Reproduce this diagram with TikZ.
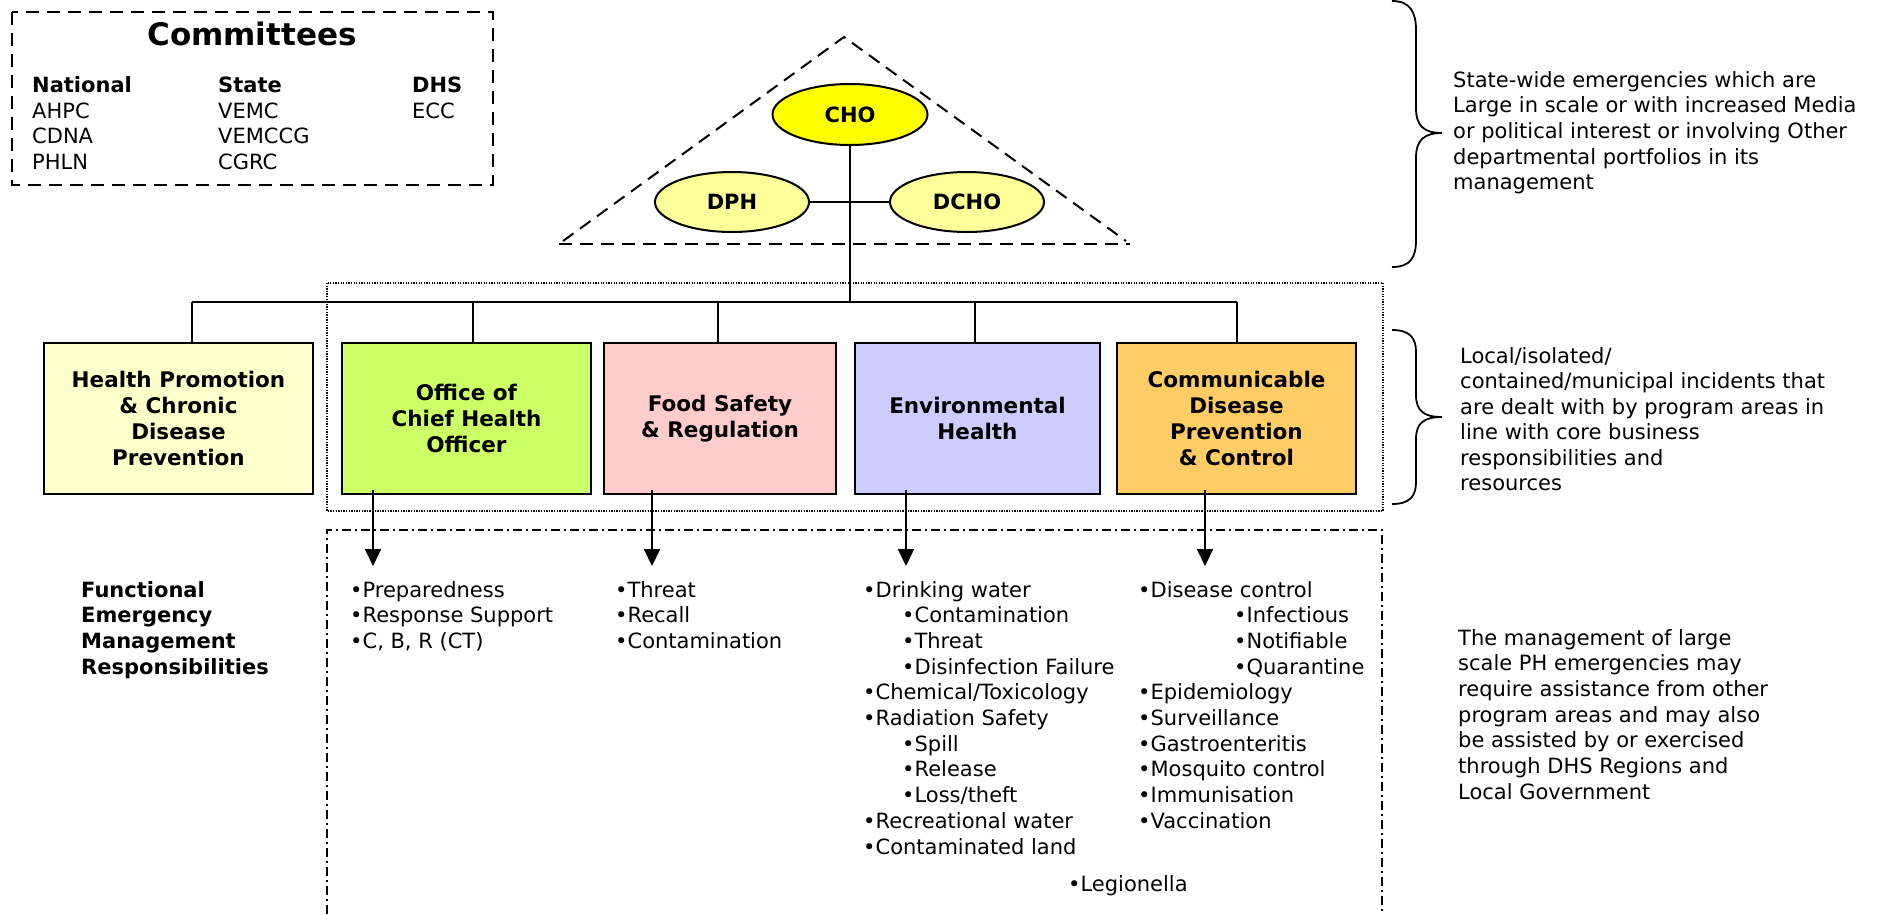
\documentclass[tikz,border=0pt]{standalone}
\usepackage{fontspec}
\setmainfont{DejaVu Sans}
\usetikzlibrary{shapes.geometric,arrows.meta}
\definecolor{choY}{HTML}{FFFF00}
\definecolor{depY}{HTML}{FFFF99}
\definecolor{hpC}{HTML}{FFFFCC}
\definecolor{ochoC}{HTML}{CCFF66}
\definecolor{fsrC}{HTML}{FFCCCC}
\definecolor{ehC}{HTML}{CCCCFF}
\definecolor{cdC}{HTML}{FFCC66}
\tikzset{
  txt/.style={font=\fontsize{21}{25.7}\selectfont, inner sep=0pt, anchor=base west},
  btxt/.style={font=\fontsize{21}{25.7}\selectfont\bfseries, inner sep=0pt, anchor=base west},
  unit/.style={draw, line width=2pt, align=center, font=\fontsize{21.5}{25.7}\selectfont\bfseries, inner sep=0pt},
  oval/.style={ellipse, draw, line width=2pt, inner sep=0pt, font=\fontsize{21}{25.7}\selectfont\bfseries},
  link/.style={line width=2pt},
  arr/.style={line width=2pt, -{Triangle[length=17pt,width=16pt]}},
  brace/.style={line width=1.8pt},
  tridash/.style={line width=2pt, dash pattern=on 13pt off 8pt},
  commdash/.style={line width=2.5pt, dash pattern=on 13pt off 8pt},
  dotbox/.style={line width=1.3pt, dash pattern=on 1.3pt off 1.3pt},
  dashdotbox/.style={line width=1.6pt, dash pattern=on 9pt off 4pt on 2pt off 4pt},
}
\newcommand{\tl}[4]{\node[txt] (#1) at (#2,#3) {#4};}
\newcommand{\btl}[4]{\node[btxt] (#1) at (#2,#3) {#4};}
\begin{document}
\begin{tikzpicture}[x=1pt,y=-1pt]
\useasboundingbox (0,0) rectangle (1883,914);

% Committees
\draw[commdash] (12,12) rectangle (493,185);
\node[font=\fontsize{31}{36}\selectfont\bfseries, inner sep=0pt, anchor=base] (comm) at (252,45) {Committees};
\btl{nat}{32}{92}{National}
\btl{sta}{218}{92}{State}
\btl{dhs}{412}{92}{DHS}
\tl{n1}{32}{118}{AHPC}
\tl{n2}{32}{143.5}{CDNA}
\tl{n3}{32}{169}{PHLN}
\tl{s1}{218}{118}{VEMC}
\tl{s2}{218}{143.5}{VEMCCG}
\tl{s3}{218}{169}{CGRC}
\tl{d1}{412}{118}{ECC}

% Triangle
\draw[tridash] (563,241) -- (844,37) -- (1126,241);
\draw[tridash] (559,244) -- (1130,244);

% Ellipses
\node[oval, fill=choY, minimum width=155, minimum height=61] (cho) at (850,114.5) {CHO};
\node[oval, fill=depY, minimum width=154, minimum height=60] (dph) at (732,202) {DPH};
\node[oval, fill=depY, minimum width=154, minimum height=60] (dcho) at (967,202) {DCHO};

% Bus
\coordinate (busL) at (192,302);
\coordinate (busR) at (1237,302);

% Dotted group
\draw[dotbox] (327,283) rectangle (1383,511);

% Units
\node[unit, fill=hpC, minimum width=269, minimum height=151] (hp) at (178.5,418.5) {Health Promotion\\\& Chronic\\Disease\\Prevention};
\node[unit, fill=ochoC, minimum width=249, minimum height=151] (ocho) at (466.5,418.5) {Office of\\Chief Health\\Officer};
\node[unit, fill=fsrC, minimum width=232, minimum height=151] (fsr) at (720,418.5) {Food Safety\\\& Regulation};
\node[unit, fill=ehC, minimum width=245, minimum height=151] (eh) at (977.5,418.5) {Environmental\\Health};
\node[unit, fill=cdC, minimum width=239, minimum height=151] (cd) at (1236.5,418.5) {Communicable\\Disease\\Prevention\\\& Control};

% Connectors
\draw[link] (dph.east) -- (dcho.west);
\draw[link] (cho.south) -- (cho.south |- busL);
\draw[link] (busL) -- (busR);
\draw[link] (busL) -- (busL |- hp.north);
\draw[link] ([xshift=6.5pt]ocho.north) -- ([xshift=6.5pt]ocho.north |- busL);
\draw[link] ([xshift=-2pt]fsr.north) -- ([xshift=-2pt]fsr.north |- busL);
\draw[link] ([xshift=-2.5pt]eh.north) -- ([xshift=-2.5pt]eh.north |- busL);
\draw[link] (busR) -- (busR |- cd.north);

% Dash-dot area
\draw[dashdotbox] (327,914) -- (327,530) -- (1382,530) -- (1382,914);

% Arrows
\coordinate (t1) at (373,566);
\coordinate (t2) at (652,566);
\coordinate (t3) at (906,566);
\coordinate (t4) at (1205,566);
\draw[arr] ([yshift=5pt]ocho.south -| t1) -- (t1);
\draw[arr] ([yshift=5pt]fsr.south -| t2) -- (t2);
\draw[arr] ([yshift=5pt]eh.south -| t3) -- (t3);
\draw[arr] ([yshift=5pt]cd.south -| t4) -- (t4);

% Functional label
\btl{f1}{81}{597}{Functional}
\btl{f2}{81}{622.7}{Emergency}
\btl{f3}{81}{648.4}{Management}
\btl{f4}{81}{674.1}{Responsibilities}

% OCHO list
\tl{o1}{350}{597}{•Preparedness}
\tl{o2}{350}{622.7}{•Response Support}
\tl{o3}{350}{648.4}{•C, B, R (CT)}

% FSR list
\tl{fs1}{615}{597}{•Threat}
\tl{fs2}{615}{622.7}{•Recall}
\tl{fs3}{615}{648.4}{•Contamination}

% EH list
\tl{e1}{863}{597}{•Drinking water}
\tl{e2}{902}{622.7}{•Contamination}
\tl{e3}{902}{648.4}{•Threat}
\tl{e4}{902}{674.1}{•Disinfection Failure}
\tl{e5}{863}{699.8}{•Chemical/Toxicology}
\tl{e6}{863}{725.5}{•Radiation Safety}
\tl{e7}{902}{751.2}{•Spill}
\tl{e8}{902}{776.9}{•Release}
\tl{e9}{902}{802.6}{•Loss/theft}
\tl{e10}{863}{828.3}{•Recreational water}
\tl{e11}{863}{854}{•Contaminated land}
\tl{e12}{1068}{891}{•Legionella}

% CD list
\tl{c1}{1138}{597}{•Disease control}
\tl{c2}{1234}{622.7}{•Infectious}
\tl{c3}{1234}{648.4}{•Notifiable}
\tl{c4}{1234}{674.1}{•Quarantine}
\tl{c5}{1138}{699.8}{•Epidemiology}
\tl{c6}{1138}{725.5}{•Surveillance}
\tl{c7}{1138}{751.2}{•Gastroenteritis}
\tl{c8}{1138}{776.9}{•Mosquito control}
\tl{c9}{1138}{802.6}{•Immunisation}
\tl{c10}{1138}{828.3}{•Vaccination}

% Braces
\draw[brace] (1392,1) .. controls (1410,1) and (1416,12) .. (1416,30) -- (1416,108) .. controls (1416,126) and (1424,133) .. (1442,133) .. controls (1424,133) and (1416,140) .. (1416,158) -- (1416,240) .. controls (1416,258) and (1410,267) .. (1392,267);
\draw[brace] (1392,330) .. controls (1410,330) and (1416,338) .. (1416,352) -- (1416,395) .. controls (1416,411) and (1424,417) .. (1442,417) .. controls (1424,417) and (1416,423) .. (1416,439) -- (1416,482) .. controls (1416,496) and (1410,504) .. (1392,504);

% Right texts
\tl{a1}{1453}{87}{State-wide emergencies which are}
\tl{a2}{1453}{112.7}{Large in scale or with increased Media}
\tl{a3}{1453}{138.4}{or political interest or involving Other}
\tl{a4}{1453}{164.1}{departmental portfolios in its}
\tl{a5}{1453}{189.8}{management}

\tl{b1}{1460}{363}{Local/isolated/}
\tl{b2}{1460}{388.5}{contained/municipal incidents that}
\tl{b3}{1460}{414}{are dealt with by program areas in}
\tl{b4}{1460}{439.5}{line with core business}
\tl{b5}{1460}{465}{responsibilities and}
\tl{b6}{1460}{490.5}{resources}

\tl{m1}{1458}{645}{The management of large}
\tl{m2}{1458}{670.7}{scale PH emergencies may}
\tl{m3}{1458}{696.4}{require assistance from other}
\tl{m4}{1458}{722.1}{program areas and may also}
\tl{m5}{1458}{747.8}{be assisted by or exercised}
\tl{m6}{1458}{773.5}{through DHS Regions and}
\tl{m7}{1458}{799.2}{Local Government}
\end{tikzpicture}
\end{document}
